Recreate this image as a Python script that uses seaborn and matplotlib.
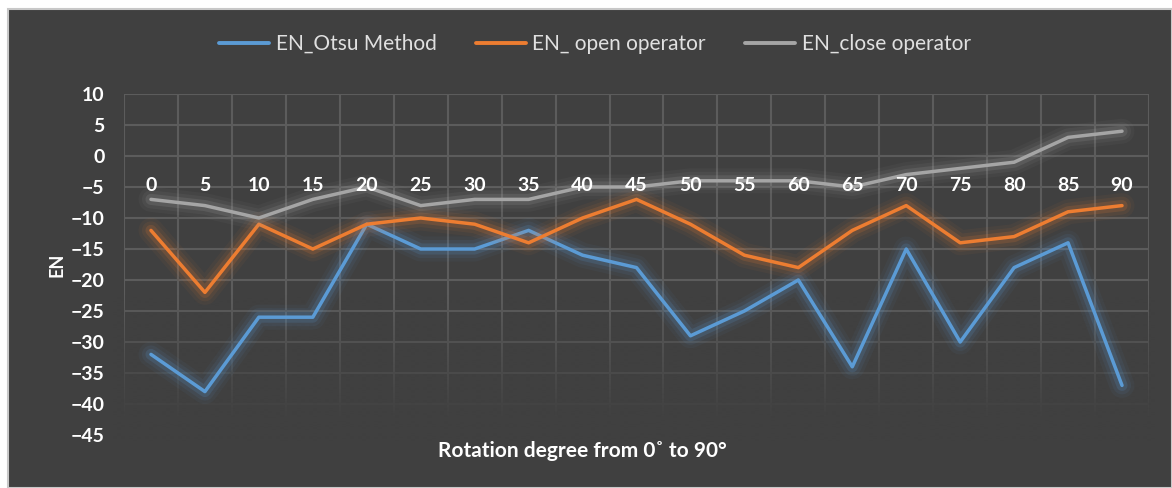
import numpy as np
import pandas as pd
import matplotlib
matplotlib.use("Agg")
import matplotlib.pyplot as plt
import matplotlib.patheffects as pe
from matplotlib.patches import Rectangle
from matplotlib.lines import Line2D
import seaborn as sns

degrees = [0, 5, 10, 15, 20, 25, 30, 35, 40, 45, 50, 55, 60, 65, 70, 75, 80, 85, 90]
en_otsu = [-32, -38, -26, -26, -11, -15, -15, -12, -16, -18, -29, -25, -20, -34, -15, -30, -18, -14, -37]
en_open = [-12, -22, -11, -15, -11, -10, -11, -14, -10, -7, -11, -16, -18, -12, -8, -14, -13, -9, -8]
en_close = [-7, -8, -10, -7, -5, -8, -7, -7, -5, -5, -4, -4, -4, -5, -3, -2, -1, 3, 4]
series_names = ["EN_Otsu Method", "EN_ open operator", "EN_close operator"]
colors = ["#5B9BD5", "#ED7D31", "#A5A5A5"]
y_ticks = [10, 5, 0, -5, -10, -15, -20, -25, -30, -35, -40, -45]

df = pd.concat([
    pd.DataFrame({"deg": degrees, "EN": vals, "series": name})
    for name, vals in zip(series_names, [en_otsu, en_open, en_close])
])

sns.set_theme(style="dark")
plt.rcParams["font.family"] = ["Lato", "DejaVu Sans"]

bg = "#404040"
grid_c = "#5C5C5C"
fig = plt.figure(figsize=(11.72, 4.88), dpi=100)
fig.patch.set_facecolor("white")
fig.patches.append(Rectangle((8 / 1172, 0), 1 - 8 / 1172, 1 - 9 / 488, transform=fig.transFigure,
                             facecolor=bg, edgecolor="#C8C8C8", linewidth=1.5, zorder=-10))

ax = fig.add_axes([124 / 1172, 53 / 488, 1025 / 1172, 341 / 488])
ax.set_facecolor(bg)

sns.lineplot(data=df, x="deg", y="EN", hue="series", palette=colors, hue_order=series_names,
             linewidth=2.5, ax=ax, legend=False, zorder=4)
for line, c in zip(ax.get_lines(), colors):
    line.set_path_effects([
        pe.Stroke(linewidth=18, foreground=c, alpha=0.05),
        pe.Stroke(linewidth=13, foreground=c, alpha=0.08),
        pe.Stroke(linewidth=8, foreground=c, alpha=0.16),
        pe.Normal(),
    ])

xmin, xmax = degrees[0] - 2.5, degrees[-1] + 2.5
ymin, ymax = y_ticks[-1], y_ticks[0]
ax.grid(False)
bounds = [d - 2.5 for d in degrees] + [degrees[-1] + 2.5]
for b in bounds:
    ax.axvline(b, color=grid_c, linewidth=1.5, zorder=1)
for t in y_ticks:
    ax.axhline(t, color=grid_c, linewidth=1.5, zorder=1)

# fade of the gridlines toward the bottom
grad = np.zeros((256, 1, 4))
rgb = matplotlib.colors.to_rgb(bg)
grad[..., 0], grad[..., 1], grad[..., 2] = rgb
alpha = np.clip((np.linspace(0, 1, 256) - 0.58) / 0.36, 0, 1)
grad[:, 0, 3] = alpha
ax.imshow(grad, extent=[xmin - 1, xmax + 1, ymin - 1, ymax], origin="upper", aspect="auto",
          zorder=2, interpolation="bilinear", clip_on=False)

ax.set_xlim(xmin, xmax)
ax.set_ylim(ymin, ymax)
ax.set_aspect("auto")
ax.set_xticks(degrees)
ax.set_xticklabels([str(d) for d in degrees])
ax.set_yticks(y_ticks)
ax.xaxis.set_zorder(6)

for s in ax.spines.values():
    s.set_visible(False)
ax.spines["bottom"].set_position(("data", 0))
ax.tick_params(axis="both", which="both", length=0, colors="white", labelsize=14)
ax.tick_params(axis="x", pad=15)
ax.tick_params(axis="y", pad=14)
for lab in ax.get_xticklabels() + ax.get_yticklabels():
    lab.set_fontweight("bold")
    lab.set_color("white")

ax.set_xlabel("")
ax.set_ylabel("")
fig.text(57 / 1172, 1 - 265 / 488, "EN", rotation=90, ha="center", va="center",
         color="white", fontsize=13, fontweight="bold")
fig.text(582 / 1172, 1 - 451 / 488, "Rotation degree from 0\u02da to 90\u00b0", ha="center", va="center",
         color="white", fontsize=15, fontweight="bold")

handles = [Line2D([], [], color=c, linewidth=2.8) for c in colors]
fig.legend(handles, series_names, loc="center", bbox_to_anchor=(595 / 1172, 1 - 44 / 488), ncol=3,
           frameon=False, fontsize=15, labelcolor="#E0E0E0", handlelength=2.4, handletextpad=0.3,
           columnspacing=1.9)

fig.savefig("out.png", dpi=100, facecolor=fig.get_facecolor())
